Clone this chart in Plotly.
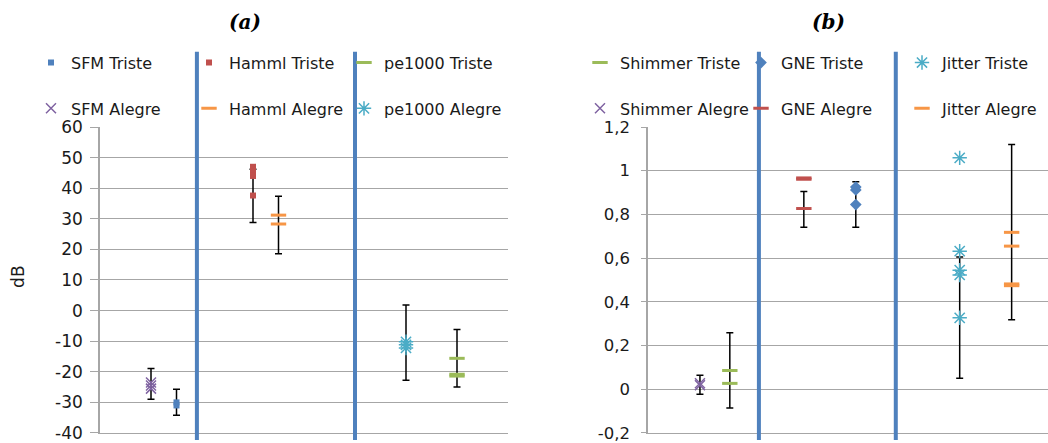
import plotly.graph_objects as go

# Excel-like palette
BLUE = '#4F81BD'
RED = '#C0504D'
GREEN = '#9BBB59'
PURPLE = '#8064A2'
CYAN = '#4BACC6'
ORANGE = '#F79646'

# ---- panel (a): dB values ----
a_pos = {"SFM Alegre": 2, "SFM Triste": 3, "Hamml Triste": 6,
         "Hamml Alegre": 7, "pe1000 Alegre": 12, "pe1000 Triste": 14}
sfm_triste = [-30.0, -31.0]
sfm_alegre = [-23.5, -24.5, -25.5]
hamml_triste = [47.0, 45.5, 44.0, 37.6]
hamml_alegre = [31.2, 28.3]
pe1000_triste = [-15.6, -20.8, -21.4]
pe1000_alegre = [-10.2, -11.2, -12.2]
# error bar ranges (low, high)
sfm_alegre_err = (-29.0, -18.9)
sfm_triste_err = (-34.2, -25.7)
hamml_triste_err = (28.8, 46.2)
hamml_alegre_err = (18.6, 37.4)
pe1000_alegre_err = (-22.8, 1.8)
pe1000_triste_err = (-25.0, -6.2)
a_separators = [3.8, 10.0]
a_ticks = [-40, -30, -20, -10, 0, 10, 20, 30, 40, 50, 60]
a_ticktext = ["-40", "-30", "-20", "-10", "0", "10", "20", "30", "40", "50", "60"]

# ---- panel (b) ----
b_pos = {"Shimmer Alegre": 2, "Shimmer Triste": 3.15, "GNE Alegre": 6,
         "GNE Triste": 8, "Jitter Triste": 12, "Jitter Alegre": 14}
shimmer_triste = [0.086, 0.027]
shimmer_alegre = [0.018, 0.028]
gne_triste = [0.912, 0.925, 0.845]
gne_alegre = [0.961, 0.967, 0.827]
jitter_triste = [1.059, 0.632, 0.545, 0.523, 0.327]
jitter_alegre = [0.718, 0.655, 0.482, 0.474]
shimmer_alegre_err = (-0.023, 0.064)
shimmer_triste_err = (-0.086, 0.259)
gne_alegre_err = (0.741, 0.905)
gne_triste_err = (0.741, 0.950)
jitter_triste_err = (0.050, 0.605)
jitter_alegre_err = (0.318, 1.120)
b_separators = [4.27, 9.54]
b_ticks = [-0.2, 0, 0.2, 0.4, 0.6, 0.8, 1.0, 1.2]
b_ticktext = ["-0,2", "0", "0,2", "0,4", "0,6", "0,8", "1", "1,2"]

fig = go.Figure()


def add_errbar(x, err, xa, ya):
    lo, hi = err
    fig.add_trace(go.Scatter(
        x=[x], y=[(lo + hi) / 2], mode='markers', xaxis=xa, yaxis=ya,
        marker=dict(color='rgba(0,0,0,0)', size=1), showlegend=False,
        hoverinfo='skip',
        error_y=dict(type='data', array=[(hi - lo) / 2], color='black',
                     thickness=1.5, width=3.5)))


def add_series(name, x, vals, marker, legend, xa, ya):
    fig.add_trace(go.Scatter(
        x=[x] * len(vals), y=vals, mode='markers', name=name,
        xaxis=xa, yaxis=ya, marker=marker, legend=legend,
        legendgroup=name))


def dash(c):
    return dict(symbol='line-ew', size=11, color=c, line=dict(color=c, width=3))


def xmark(c):
    return dict(symbol='x-thin-open', size=10, color=c, line=dict(color=c, width=1.5))


def star(c):
    return dict(symbol='asterisk-open', size=12, color=c, line=dict(color=c, width=1.5))


# error bars first so markers sit on top
for key, err in [("SFM Alegre", sfm_alegre_err), ("SFM Triste", sfm_triste_err),
                 ("Hamml Triste", hamml_triste_err), ("Hamml Alegre", hamml_alegre_err),
                 ("pe1000 Alegre", pe1000_alegre_err), ("pe1000 Triste", pe1000_triste_err)]:
    add_errbar(a_pos[key], err, 'x', 'y')
for key, err in [("Shimmer Alegre", shimmer_alegre_err), ("Shimmer Triste", shimmer_triste_err),
                 ("GNE Alegre", gne_alegre_err), ("GNE Triste", gne_triste_err),
                 ("Jitter Triste", jitter_triste_err), ("Jitter Alegre", jitter_alegre_err)]:
    add_errbar(b_pos[key], err, 'x2', 'y2')

add_series("SFM Triste", a_pos["SFM Triste"], sfm_triste,
           dict(symbol='square', size=6, color=BLUE), 'legend', 'x', 'y')
add_series("SFM Alegre", a_pos["SFM Alegre"], sfm_alegre, xmark(PURPLE), 'legend', 'x', 'y')
add_series("Hamml Triste", a_pos["Hamml Triste"], hamml_triste,
           dict(symbol='square', size=6, color=RED), 'legend2', 'x', 'y')
add_series("Hamml Alegre", a_pos["Hamml Alegre"], hamml_alegre, dash(ORANGE), 'legend2', 'x', 'y')
add_series("pe1000 Triste", a_pos["pe1000 Triste"], pe1000_triste, dash(GREEN), 'legend3', 'x', 'y')
add_series("pe1000 Alegre", a_pos["pe1000 Alegre"], pe1000_alegre, star(CYAN), 'legend3', 'x', 'y')

add_series("Shimmer Triste", b_pos["Shimmer Triste"], shimmer_triste, dash(GREEN), 'legend4', 'x2', 'y2')
add_series("Shimmer Alegre", b_pos["Shimmer Alegre"], shimmer_alegre, xmark(PURPLE), 'legend4', 'x2', 'y2')
add_series("GNE Triste", b_pos["GNE Triste"], gne_triste,
           dict(symbol='diamond', size=9, color=BLUE), 'legend5', 'x2', 'y2')
add_series("GNE Alegre", b_pos["GNE Alegre"], gne_alegre, dash(RED), 'legend5', 'x2', 'y2')
add_series("Jitter Triste", b_pos["Jitter Triste"], jitter_triste, star(CYAN), 'legend6', 'x2', 'y2')
add_series("Jitter Alegre", b_pos["Jitter Alegre"], jitter_alegre, dash(ORANGE), 'legend6', 'x2', 'y2')

shapes = []
for s in a_separators:
    shapes.append(dict(type='line', xref='x', yref='paper', x0=s, x1=s,
                       y0=0.007, y1=0.883, line=dict(color=BLUE, width=4)))
for s in b_separators:
    shapes.append(dict(type='line', xref='x2', yref='paper', x0=s, x1=s,
                       y0=0.007, y1=0.883, line=dict(color=BLUE, width=4)))

legfont = dict(family='DejaVu Sans', size=16, color='#1a1a1a')
leg = dict(xanchor='left', yanchor='top', y=0.897, bgcolor='rgba(0,0,0,0)',
           font=legfont, tracegroupgap=22, itemclick=False)

grid = '#A6A6A6'
yax_common = dict(showgrid=True, gridcolor=grid, gridwidth=1, showline=True,
                  linecolor=grid, linewidth=1.5, ticks='outside', tickcolor=grid,
                  zeroline=False, domain=[0.0226, 0.7133], automargin=False,
                  ticklabeloverflow='allow',
                  tickfont=dict(family='DejaVu Sans', size=17, color='#1a1a1a'))
# x axes only carry the bottom frame line
xax_common = dict(showline=True, linecolor=grid, linewidth=1, showgrid=False,
                  zeroline=False, showticklabels=False, ticks='')

fig.update_layout(
    width=1048, height=443, autosize=False,
    margin=dict(l=0, r=0, t=0, b=0),
    paper_bgcolor='white', plot_bgcolor='white',
    xaxis=dict(xax_common, domain=[100 / 1048, 508 / 1048], range=[0, 16]),
    xaxis2=dict(xax_common, domain=[648 / 1048, 1.0], range=[0, 15.4], anchor='y2'),
    yaxis=dict(yax_common, range=[-40, 60], tickvals=a_ticks, ticktext=a_ticktext,
               ticklen=8, ticklabelstandoff=4),
    yaxis2=dict(yax_common, range=[-0.2, 1.2], tickvals=b_ticks, ticktext=b_ticktext,
                ticklen=5, ticklabelstandoff=8, anchor='x2',
                tickfont=dict(family='DejaVu Sans', size=16.5, color='#1a1a1a')),
    legend=dict(leg, x=31 / 1048),
    legend2=dict(leg, x=189 / 1048),
    legend3=dict(leg, x=344 / 1048),
    legend4=dict(leg, x=580 / 1048),
    legend5=dict(leg, x=741 / 1048),
    legend6=dict(leg, x=902 / 1048),
    shapes=shapes,
    annotations=[
        dict(text='<b><i>(a)</i></b>', x=245 / 1048, y=0.95, xref='paper', yref='paper',
             xanchor='center', yanchor='middle', showarrow=False,
             font=dict(family='DejaVu Serif', size=20, color='black')),
        dict(text='<b><i>(b)</i></b>', x=828 / 1048, y=0.95, xref='paper', yref='paper',
             xanchor='center', yanchor='middle', showarrow=False,
             font=dict(family='DejaVu Serif', size=20, color='black')),
        dict(text='dB', x=18 / 1048, y=0.375, xref='paper', yref='paper', textangle=-90,
             xanchor='center', yanchor='middle', showarrow=False,
             font=dict(family='DejaVu Sans', size=17, color='#1a1a1a')),
    ],
    showlegend=True,
)

# drop the default page margin so the figure fills the window exactly
fig.write_html("out.html", config={'displayModeBar': False},
               post_script="document.body.style.margin='0';")
